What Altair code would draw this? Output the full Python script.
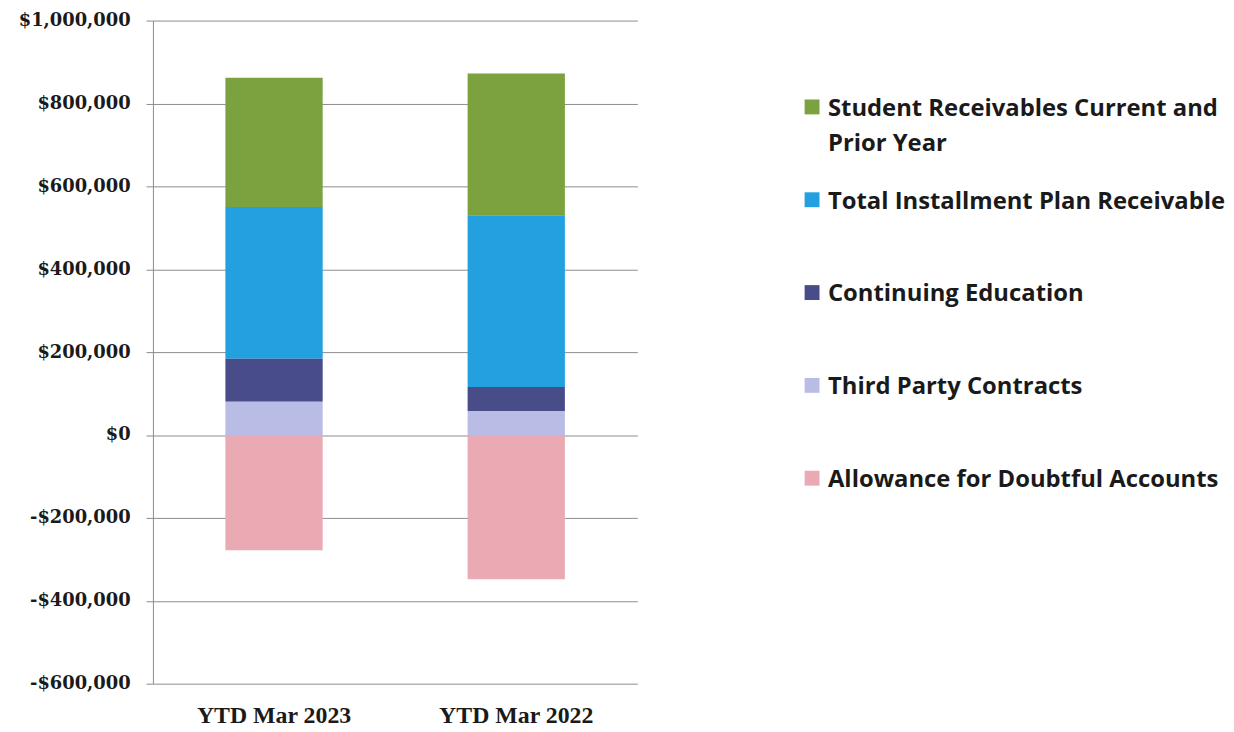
import altair as alt
import pandas as pd

# ---- data ----
periods = ["YTD Mar 2023", "YTD Mar 2022"]
series = [
    "Student Receivables Current and Prior Year",
    "Total Installment Plan Receivable",
    "Continuing Education",
    "Third Party Contracts",
    "Allowance for Doubtful Accounts",
]
student = [312000, 342000]
installment = [366000, 414000]
continuing = [104000, 58000]
third_party = [80000, 58000]
allowance = [-278000, -348000]
stack_order = [4, 3, 2, 1, 0]
colors = ["#7ba23f", "#22a0e0", "#484d8a", "#b9bde6", "#eaaab4"]
legend_labels = [
    ["Student Receivables Current and", "Prior Year"],
    ["Total Installment Plan Receivable"],
    ["Continuing Education"],
    ["Third Party Contracts"],
    ["Allowance for Doubtful Accounts"],
]
y_ticks = [-600000, -400000, -200000, 0, 200000, 400000, 600000, 800000, 1000000]

values = [student, installment, continuing, third_party, allowance]
rows = []
for s, vals, o in zip(series, values, stack_order):
    for p, v in zip(periods, vals):
        rows.append({"period": p, "series": s, "value": v, "ord": o})
df = pd.DataFrame(rows)
leg = pd.DataFrame({"series": series, "label": legend_labels})

color_scale = alt.Scale(domain=series, range=colors)

bars = alt.Chart(df).mark_bar(size=98).encode(
    x=alt.X("period:N", sort=periods, title=None,
            scale=alt.Scale(paddingInner=0, paddingOuter=0),
            axis=alt.Axis(labelAngle=0, domain=False, ticks=False, labelPadding=20,
                          labelFont="Liberation Serif", labelFontWeight="bold",
                          labelFontSize=24, labelColor="#1a1a1a")),
    y=alt.Y("value:Q", stack="zero", title=None,
            scale=alt.Scale(domain=[-600000, 1000000], nice=False),
            axis=alt.Axis(values=y_ticks, grid=True, gridColor="#8c8c8c", gridWidth=1,
                          domain=True, domainColor="#8c8c8c", domainWidth=1,
                          ticks=True, tickSize=7, tickColor="#8c8c8c", labelPadding=16,
                          labelFont="DejaVu Serif", labelFontWeight="bold",
                          labelFontSize=18, labelColor="#1a1a1a",
                          labelExpr="datum.value < 0 ? '-$' + format(-datum.value, ',') : '$' + format(datum.value, ',')")),
    color=alt.Color("series:N", scale=color_scale, legend=None),
    order=alt.Order("ord:Q"),
)

leg_y = alt.Y("series:N", sort=series, axis=None,
              scale=alt.Scale(type="point", domain=series, range=[87, 461], padding=0))

leg_sym = alt.Chart(leg).mark_square(size=225, opacity=1).encode(
    x=alt.value(664),
    y=leg_y,
    color=alt.Color("series:N", scale=color_scale, legend=None),
)

leg_txt = alt.Chart(leg).mark_text(
    align="left", baseline="top", dy=-10, lineHeight=35,
    font="Open Sans", fontWeight="bold", fontSize=24, color="#1a1a1a",
).encode(
    x=alt.value(680),
    y=leg_y,
    text="label",
)

legend_layer = alt.layer(leg_sym, leg_txt)

chart = alt.layer(bars, legend_layer).resolve_scale(y="independent").properties(
    width=488, height=668,
    padding={"left": 10, "top": 1, "right": 0, "bottom": 0},
).configure(background="white", view=alt.ViewConfig(stroke=None))

chart.save("out.html", embed_options={"renderer": "svg", "actions": False})
